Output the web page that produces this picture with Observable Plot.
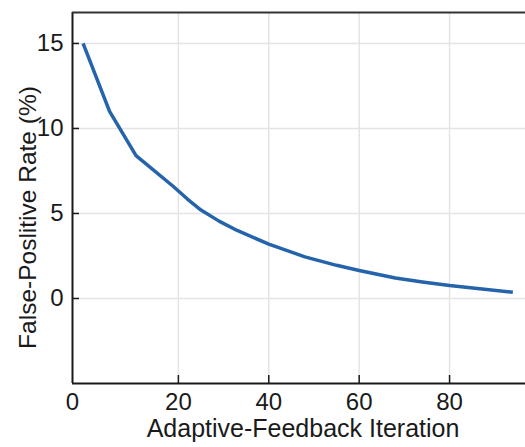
<!DOCTYPE html>
<html><head><meta charset="utf-8">
<script src="https://cdn.jsdelivr.net/npm/d3@7"></script>
<script src="https://cdn.jsdelivr.net/npm/@observablehq/plot@0.6"></script>
<style>html,body{margin:0;padding:0;background:#fff;} svg{display:block;}</style>
</head><body><div id="chart"></div>
<script>
const iterations = [2, 7, 12, 19, 22, 25, 29, 33, 40, 48, 55, 60, 68, 74, 80, 94];
const falsePositiveRate = [15, 11, 8.4, 6.6, 5.85, 5.2, 4.55, 4.0, 3.2, 2.45, 1.95, 1.65, 1.2, 0.97, 0.76, 0.37];
const xTicks = [0, 20, 40, 60, 80];
const yTicks = [0, 5, 10, 15];
const xTitle = "Adaptive-Feedback Iteration";
const yTitle = "False-Poslitive Rate (%)";
const yDomain = [-5, 16.82];

// the reference's first x interval (0–20) is drawn wider than the others
const stretch = 106 / 90.5;
const warp = v => (v >= 20 ? v : 20 - (20 - v) * stretch);

const data = iterations.map((x, i) => ({x, y: falsePositiveRate[i]}));
const font = "'Liberation Sans', Arial, Helvetica, sans-serif";
const axisColor = "#1a1a1a";

const chart = Plot.plot({
  width: 525, height: 447,
  marginLeft: 72, marginRight: 0, marginTop: 12, marginBottom: 64,
  style: {fontFamily: font, background: "#fff", color: axisColor},
  x: {transform: warp, domain: [warp(0), 96.8]},
  y: {domain: yDomain},
  marks: [
    Plot.gridX(xTicks.filter(d => d > 0), {stroke: "#e4e4e4", strokeOpacity: 1, strokeWidth: 1.5}),
    Plot.gridY(yTicks, {stroke: "#e4e4e4", strokeOpacity: 1, strokeWidth: 1.5}),
    // inward ticks
    Plot.axisX(xTicks.filter(d => d > 0), {tickSize: 8, dy: -8, tickFormat: () => "", stroke: axisColor, strokeWidth: 1.5, label: null}),
    Plot.axisY(yTicks, {tickSize: 7, dx: 7, tickFormat: () => "", stroke: axisColor, strokeWidth: 1.5, label: null}),
    // tick labels
    Plot.axisX(xTicks, {tickSize: 0, tickPadding: 9, fontSize: 24, fill: axisColor, label: null}),
    Plot.axisY(yTicks, {tickSize: 0, tickPadding: 9, fontSize: 24, fill: axisColor, label: null}),
    // spines
    Plot.ruleX([0], {stroke: axisColor, strokeWidth: 2}),
    Plot.ruleY([yDomain[0]], {stroke: axisColor, strokeWidth: 2}),
    Plot.ruleY([yDomain[1]], {stroke: "#333", strokeWidth: 2}),
    // data line
    Plot.line(data, {x: "x", y: "y", stroke: "#2563ab", strokeWidth: 3.5, strokeLinejoin: "round", strokeLinecap: "butt"}),
    // axis titles
    Plot.text([xTitle], {frameAnchor: "bottom", dx: 4, dy: 45, fontSize: 25, lineAnchor: "middle", textAnchor: "middle", fill: axisColor}),
    Plot.text([yTitle], {frameAnchor: "left", rotate: -90, dx: -44.5, dy: 19.5, fontSize: 24.5, lineAnchor: "middle", textAnchor: "middle", fill: axisColor})
  ]
});
document.getElementById("chart").appendChild(chart);
</script>
</body></html>
